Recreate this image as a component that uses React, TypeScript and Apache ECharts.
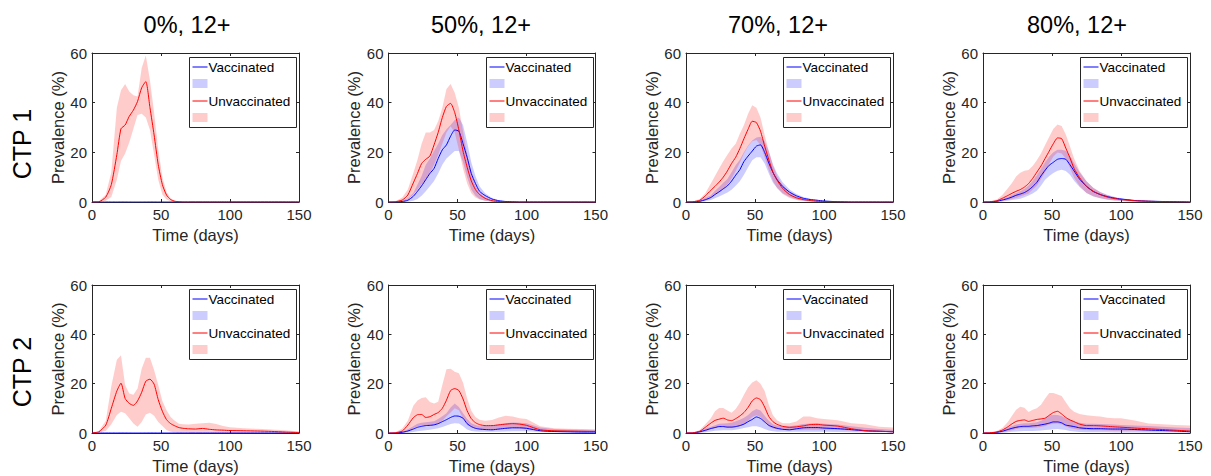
import React, { useEffect, useRef } from 'react';
import * as echarts from 'echarts';

// ---------- data ----------
const days = [0, 5, 10, 14, 18, 21, 24, 27, 30, 33, 36, 39, 42, 45, 48, 51, 54, 57, 60, 63, 66, 70, 75, 80, 85, 90, 95, 100, 110, 120, 130, 140, 150];

const columnTitles = ['0%, 12+', '50%, 12+', '70%, 12+', '80%, 12+'];
const rowLabels = ['CTP 1', 'CTP 2'];
const legendLabels = ['Vaccinated', 'Unvaccinated'];
const xTickStep = 50;
const yTickStep = 20;
const xMax = 150;
const yMax = 60;

const zeros = [0, 0, 0, 0, 0, 0, 0, 0, 0, 0, 0, 0, 0, 0, 0, 0, 0, 0, 0, 0, 0, 0, 0, 0, 0, 0, 0, 0, 0, 0, 0, 0, 0];

// CTP 1, 0%
const p1uM = [0, 0.1, 2, 7, 19, 29.5, 31, 34.5, 37, 40.5, 46, 48.5, 38, 27, 15, 7, 2.8, 1, 0.3, 0.1, 0, 0, 0, 0, 0, 0, 0, 0, 0, 0, 0, 0, 0];
const p1uU = [0, 0.3, 3, 12, 38, 45, 47.5, 44.5, 43, 42.5, 54, 59, 49, 36, 21, 10, 4, 1.5, 0.5, 0.2, 0, 0, 0, 0, 0, 0, 0, 0, 0, 0, 0, 0, 0];
const p1uL = [0, 0, 0.5, 2, 9, 16.5, 19.5, 24, 29.5, 35, 35.5, 34, 29, 19, 9, 3, 1, 0.3, 0, 0, 0, 0, 0, 0, 0, 0, 0, 0, 0, 0, 0, 0, 0];

// CTP 1, 50%
const p2uM = [0, 0.1, 0.8, 2.8, 7.7, 11.5, 15.5, 17.2, 18.5, 23, 28, 34, 38.5, 39.7, 36, 29, 20.5, 14, 8.5, 5, 3, 1.5, 0.5, 0.2, 0.1, 0, 0, 0, 0, 0, 0, 0, 0];
const p2uU = [0, 0.3, 1.8, 5, 11.7, 17, 23.5, 28, 28, 29, 32.5, 38, 45.5, 47.5, 44, 38, 28.5, 19, 11.5, 6.5, 3.6, 1.8, 0.8, 0.3, 0.1, 0, 0, 0, 0, 0, 0, 0, 0];
const p2uL = [0, 0, 0.2, 1, 3, 5, 7, 9, 11.5, 15, 19, 23.5, 28, 30.5, 28, 21, 13.5, 7.5, 3.5, 1.8, 1, 0.5, 0.2, 0, 0, 0, 0, 0, 0, 0, 0, 0, 0];
const p2vM = [0, 0, 0.2, 0.7, 2.3, 4.3, 6.5, 9, 11.5, 13.5, 17.5, 21, 23, 26.5, 29, 28.5, 23.5, 18, 11.5, 7.5, 4.3, 2.6, 1.2, 0.5, 0.2, 0.1, 0, 0, 0, 0, 0, 0, 0];
const p2vU = [0, 0, 0.5, 1.5, 3.6, 7, 10.5, 15, 17.5, 20.5, 23.5, 27, 29.3, 31, 33, 34, 31, 24, 16, 10.5, 6.3, 3.5, 1.6, 0.7, 0.3, 0.1, 0, 0, 0, 0, 0, 0, 0];
const p2vL = [0, 0, 0, 0.1, 0.5, 1.2, 2.5, 4.3, 6.3, 8.5, 11.5, 15, 17.5, 19, 20.5, 20.5, 16, 10, 5, 2.5, 1.2, 0.5, 0.2, 0, 0, 0, 0, 0, 0, 0, 0, 0, 0];

// CTP 1, 70%
const p3uM = [0, 0.1, 0.7, 2.5, 4.7, 6.3, 8, 10, 12.5, 15.5, 18, 21.5, 25.5, 29.3, 32.5, 32, 28.5, 22.5, 17, 12, 8.8, 5.5, 3, 1.7, 1, 0.6, 0.3, 0.2, 0.1, 0, 0, 0, 0];
const p3uU = [0, 0.2, 1.2, 3.5, 7.5, 10.5, 13.5, 16.4, 19, 21.5, 23.5, 27.5, 31, 35.5, 39, 38, 34, 27, 20.5, 14.7, 10.5, 6.8, 4, 2.3, 1.2, 0.6, 0.3, 0.1, 0, 0, 0, 0, 0];
const p3uL = [0, 0, 0.2, 0.8, 1.8, 3, 4, 5.3, 6.8, 9.5, 12.5, 15.8, 19.5, 22.5, 24.5, 25, 23, 18, 12.8, 8.6, 5.5, 3.2, 1.6, 0.8, 0.4, 0.2, 0.1, 0, 0, 0, 0, 0, 0];
const p3vM = [0, 0, 0.3, 0.9, 1.8, 3, 4.1, 5.3, 6.5, 8.4, 10.8, 13, 16.3, 18.5, 20.5, 22.5, 23, 20, 15.7, 11.9, 9, 6.3, 4, 2.5, 1.5, 1, 0.7, 0.4, 0.1, 0, 0, 0, 0];
const p3vU = [0, 0.1, 0.6, 1.7, 2.7, 4.5, 6, 7.8, 9.3, 12, 14.8, 17, 20, 22.8, 24.8, 26, 26.3, 24.5, 20.5, 15.2, 11.5, 8, 5, 3.2, 2, 1.3, 0.9, 0.5, 0.2, 0, 0, 0, 0];
const p3vL = [0, 0, 0, 0.3, 0.8, 1.5, 2.2, 3, 3.8, 4.9, 6.5, 8.4, 11, 14, 16.8, 18, 18, 15.5, 11.5, 7.8, 5.7, 3.5, 2, 1, 0.5, 0.3, 0.1, 0, 0, 0, 0, 0, 0];

// CTP 1, 80%
const p4uM = [0, 0.1, 0.5, 1.5, 2.6, 3.5, 4.3, 5, 6, 7.4, 9.5, 12, 14.5, 17.5, 20.5, 23.5, 25.8, 25.5, 21.7, 17.8, 13.5, 9.8, 6.3, 4.3, 3, 2, 1.4, 1, 0.5, 0.3, 0.15, 0.1, 0];
const p4uU = [0, 0.2, 1, 2.8, 5.5, 7.7, 10.3, 11.8, 12.6, 12.9, 14.5, 16.8, 19.5, 23, 26.3, 29.5, 31.2, 30.6, 27.2, 22.5, 17.5, 12.5, 8.4, 5.7, 3.9, 2.7, 1.9, 1.3, 0.7, 0.4, 0.2, 0.1, 0];
const p4uL = [0, 0, 0.1, 0.4, 0.8, 1.2, 1.6, 2.2, 2.8, 3.4, 5, 6.5, 9.2, 12, 15.5, 18.3, 19.9, 19.5, 17.5, 13.8, 9.8, 6.4, 3.6, 2.3, 1.5, 0.9, 0.6, 0.4, 0.2, 0.1, 0, 0, 0];
const p4vM = [0, 0, 0.3, 0.8, 1.4, 2, 2.7, 3.2, 3.8, 4.8, 6.2, 7.9, 10.5, 12.8, 14.8, 16, 17.2, 17.5, 17.2, 15, 12.5, 9.2, 6.3, 4.2, 3, 2.2, 1.6, 1.2, 0.6, 0.35, 0.2, 0.1, 0];
const p4vU = [0, 0, 0.6, 1.3, 2, 2.8, 3.6, 4.3, 5.2, 6.6, 8.5, 10.8, 13.3, 16, 18.3, 20, 21, 21, 20.6, 18.5, 15.7, 12, 8.4, 5.6, 4, 2.9, 2.1, 1.5, 0.8, 0.45, 0.25, 0.1, 0];
const p4vL = [0, 0, 0, 0.2, 0.5, 0.8, 1, 1.3, 1.9, 2.6, 3.4, 4.5, 6.5, 9, 10.5, 11.7, 12.6, 13, 12.5, 11, 8.6, 6, 3.6, 2.2, 1.5, 1, 0.7, 0.5, 0.25, 0.1, 0, 0, 0];

// CTP 2, 0%
const p5uM = [0, 0.5, 3.2, 10, 17, 20.2, 14, 12, 11.2, 13, 16.5, 21, 21.8, 19.8, 13.5, 8.8, 5.4, 3.8, 2.9, 2.2, 1.9, 1.7, 1.6, 1.85, 1.5, 1.25, 1.15, 1, 0.9, 0.8, 0.65, 0.4, 0.2];
const p5uU = [0, 0.8, 5, 19, 29.7, 31.5, 19.5, 16, 15.5, 18, 26, 30.5, 30.5, 25.5, 19.5, 13, 9.2, 6.5, 5, 3.8, 3.5, 3.4, 3.7, 4, 4.2, 3.6, 2.8, 2.3, 1.9, 1.7, 1.4, 1.1, 0.6];
const p5uL = [0, 0.1, 0.8, 3.5, 7.3, 8.6, 8, 6, 3.9, 2.5, 4.5, 7.5, 8.2, 7, 4.5, 2.8, 1.2, 0.5, 0.3, 0.2, 0.2, 0.1, 0.1, 0.1, 0.1, 0.1, 0.1, 0.1, 0.1, 0.1, 0.1, 0, 0];

// CTP 2, 50%
const p6uM = [0, 0.1, 0.8, 3.2, 6.2, 7.4, 7.5, 6.3, 6.6, 7.5, 8.3, 10, 13.3, 17.2, 18, 17.2, 13.8, 9, 5.8, 4.2, 3.4, 3, 3, 3.3, 3.6, 3.8, 3.6, 3.1, 1.3, 0.9, 0.8, 0.7, 0.6];
const p6uU = [0, 0.3, 1.8, 5, 11, 13.2, 14.2, 14.5, 12.6, 12, 12.7, 19.5, 25.8, 26, 24.8, 24.2, 20.5, 14, 9, 6.5, 5.4, 5, 5.3, 6.3, 7, 6.7, 6, 5.7, 2.7, 1.9, 1.7, 1.6, 1.5];
const p6uL = [0, 0, 0.1, 0.5, 1.8, 2.7, 3, 3.1, 3.1, 3.4, 3.8, 5, 6.8, 8.3, 10, 9.2, 6, 3.2, 2.3, 1.7, 1.3, 1.3, 1.4, 1.6, 1.8, 2, 1.8, 1.4, 0.8, 0.5, 0.4, 0.3, 0.3];
const p6vM = [0, 0, 0.3, 0.8, 1.6, 2.3, 2.7, 3, 3.1, 3.3, 3.8, 4.6, 5.4, 6.3, 6.9, 6.8, 6, 3.8, 2.6, 1.9, 1.6, 1.4, 1.3, 1.6, 1.9, 2.1, 2.1, 1.9, 0.9, 0.6, 0.5, 0.4, 0.4];
const p6vU = [0, 0, 0.6, 1.5, 2.7, 3.7, 4.2, 4.4, 4.6, 4.8, 5.7, 6.8, 8, 10.3, 12, 10.5, 8, 5.7, 4, 3.2, 2.7, 2.8, 3, 3.5, 4, 4.3, 4.2, 4, 2.2, 1.6, 1.4, 1.3, 1.2];
const p6vL = [0, 0, 0, 0.1, 0.4, 0.7, 0.9, 1.1, 1.3, 1.6, 1.9, 2.4, 3, 3.6, 4, 3.9, 2.7, 1.4, 0.8, 0.6, 0.5, 0.5, 0.5, 0.5, 0.6, 0.7, 0.7, 0.7, 0.4, 0.3, 0.2, 0.1, 0.1];

// CTP 2, 70%
const p7uM = [0, 0.1, 0.7, 2.3, 4, 5.1, 5.6, 6, 5.3, 5, 5.8, 6.9, 8.3, 10.4, 13, 14.2, 13.5, 10.5, 6.7, 4.6, 3.5, 2.7, 2.3, 2.5, 2.9, 3.4, 3.5, 3.2, 2.8, 1.7, 0.95, 0.7, 0.5];
const p7uU = [0, 0.2, 1.2, 3.5, 6, 8.8, 10.1, 10.1, 9.1, 8.2, 9.7, 12.3, 15.5, 18.5, 20.5, 21.4, 20, 17, 11.5, 7.2, 5.2, 4, 4, 4.7, 6.7, 6.7, 6, 5.7, 5.2, 4, 3.5, 2.5, 2.2];
const p7uL = [0, 0, 0.1, 0.6, 1.6, 2.3, 2.7, 2.4, 2, 2, 2.3, 2.7, 3.4, 5, 6.5, 7.2, 6.5, 4.5, 2.7, 1.8, 1.5, 1.3, 1.3, 1.3, 1.3, 1.3, 1.3, 1.3, 1.3, 0.9, 0.7, 0.5, 0.4];
const p7vM = [0, 0, 0.5, 1.1, 1.8, 2.2, 2.6, 2.6, 2.4, 2.4, 2.6, 3, 3.6, 4.6, 5.5, 6.5, 5.9, 4.5, 3.1, 2.4, 1.9, 1.5, 1.3, 1.7, 2.1, 2.2, 2.2, 2, 1.75, 1.35, 0.9, 0.7, 0.5];
const p7vU = [0, 0, 0.9, 1.8, 2.5, 3.1, 3.7, 3.9, 4, 4.2, 4.8, 5.4, 6.2, 7.3, 8.8, 9.7, 9.1, 7, 5, 3.5, 2.9, 2.7, 2.7, 3.1, 3.6, 3.9, 4, 3.8, 3.4, 2.7, 2.1, 1.6, 1.3];
const p7vL = [0, 0, 0.1, 0.3, 0.6, 0.9, 1, 1.1, 1.1, 1.1, 1.3, 1.6, 2, 2.3, 2.7, 2.7, 2.3, 1.6, 1, 0.7, 0.5, 0.5, 0.5, 0.5, 0.5, 0.5, 0.5, 0.5, 0.4, 0.3, 0.3, 0.3, 0.3];

// CTP 2, 80%
const p8uM = [0, 0.1, 0.4, 1.2, 2.5, 3.7, 4.7, 5.1, 5.3, 4.7, 5.1, 5.5, 5.7, 6, 7.2, 8.3, 8.8, 7.7, 6.3, 5.3, 4.6, 3.6, 3, 3, 2.9, 2.7, 2.5, 2.35, 2, 1.7, 1.4, 1.1, 0.8];
const p8uU = [0, 0.2, 0.8, 2, 4.5, 7, 9.4, 10.6, 10.2, 8.5, 9.4, 10, 11.5, 14, 16.2, 16.2, 15.6, 15, 12.5, 10, 8.6, 7.7, 7.2, 6.9, 6.7, 6.2, 6, 6, 5.1, 3.9, 3.5, 3.2, 3];
const p8uL = [0, 0, 0.1, 0.3, 0.7, 1.1, 1.6, 1.9, 2, 2, 2, 2.2, 2.4, 2.8, 3.4, 3.8, 3.9, 3.5, 2.6, 2, 1.6, 1.3, 1.2, 1.1, 1.1, 1, 0.95, 0.9, 0.9, 0.85, 0.8, 0.75, 0.7];
const p8vM = [0, 0, 0.3, 0.7, 1.4, 1.9, 2.3, 2.6, 2.7, 2.7, 2.9, 3, 3.3, 3.6, 4, 4.5, 4.5, 4.1, 3.2, 2.9, 2.6, 2.1, 1.85, 1.75, 1.75, 1.65, 1.6, 1.6, 1.4, 1.2, 1, 0.8, 0.5];
const p8vU = [0, 0, 0.5, 1.2, 2.1, 2.8, 3.4, 3.8, 4, 4, 4.2, 4.4, 5, 5.8, 7, 7.3, 7.3, 6.9, 6, 5.4, 4.6, 4.2, 3.8, 3.7, 3.6, 3.5, 3.4, 3.2, 3, 2.8, 2.5, 2.2, 2];
const p8vL = [0, 0, 0, 0.1, 0.3, 0.5, 0.6, 0.7, 0.8, 0.8, 0.8, 0.9, 1, 1.2, 1.3, 1.5, 1.6, 1.4, 1.2, 0.8, 0.6, 0.4, 0.3, 0.3, 0.3, 0.3, 0.2, 0.2, 0.2, 0.2, 0.2, 0.2, 0.2];

const panels = [
  { vM: zeros, vL: zeros, vU: zeros, uM: p1uM, uL: p1uL, uU: p1uU },
  { vM: p2vM, vL: p2vL, vU: p2vU, uM: p2uM, uL: p2uL, uU: p2uU },
  { vM: p3vM, vL: p3vL, vU: p3vU, uM: p3uM, uL: p3uL, uU: p3uU },
  { vM: p4vM, vL: p4vL, vU: p4vU, uM: p4uM, uL: p4uL, uU: p4uU },
  { vM: zeros, vL: zeros, vU: zeros, uM: p5uM, uL: p5uL, uU: p5uU },
  { vM: p6vM, vL: p6vL, vU: p6vU, uM: p6uM, uL: p6uL, uU: p6uU },
  { vM: p7vM, vL: p7vL, vU: p7vU, uM: p7uM, uL: p7uL, uU: p7uU },
  { vM: p8vM, vL: p8vL, vU: p8vU, uM: p8uM, uL: p8uL, uU: p8uU },
];

// ---------- layout / style ----------
const FONT = '"Liberation Sans", Arial, Helvetica, sans-serif';
const AXIS = '#262626';
const BLUE = '#0000ff';
const RED = '#ff0000';
const BLUE_BAND = 'rgba(0,0,255,0.2)';
const RED_BAND = 'rgba(255,0,0,0.2)';
const colLeft = [92, 388.5, 686, 983];
const plotW = 207;
const rowTop = [53, 285];
const rowH = [149, 148];
const titleX = [187, 481, 778, 1077];

function pairs(a: number[]) {
  return days.map((d, i) => [d, a[i]]);
}

function bandSeries(lower: number[], upper: number[], fill: string, axisIndex: number) {
  return {
    type: 'custom',
    coordinateSystem: 'cartesian2d',
    xAxisIndex: axisIndex,
    yAxisIndex: axisIndex,
    silent: true,
    z: 2,
    data: days.map((d, i) => [d, lower[i], upper[i]]),
    encode: { x: 0, y: [1, 2] },
    renderItem: (params: any, api: any) => {
      if (params.dataIndex !== 0) return { type: 'group', children: [] };
      const pts: number[][] = [];
      for (let k = 0; k < days.length; k++) pts.push(api.coord([days[k], upper[k]]));
      for (let k = days.length - 1; k >= 0; k--) pts.push(api.coord([days[k], lower[k]]));
      return {
        type: 'polygon',
        shape: { points: pts },
        style: { fill, stroke: 'none' },
      };
    },
  };
}

function buildOption() {
  const grids: any[] = [];
  const xAxes: any[] = [];
  const yAxes: any[] = [];
  const series: any[] = [];
  const graphics: any[] = [];

  panels.forEach((p, i) => {
    const r = Math.floor(i / 4);
    const c = i % 4;
    const left = colLeft[c];
    const top = rowTop[r];
    const h = rowH[r];
    grids.push({ left, top, width: plotW, height: h, containLabel: false });

    const axisLine = { show: true, onZero: false, lineStyle: { color: AXIS, width: 1 } };
    const axisTick = { show: true, inside: true, length: 3, lineStyle: { color: AXIS, width: 1 } };
    const label = { color: AXIS, fontSize: 15, fontFamily: FONT, margin: 5 };
    const nameStyle = { color: AXIS, fontSize: 16.5, fontFamily: FONT };

    xAxes.push({
      type: 'value', gridIndex: i, min: 0, max: xMax, interval: xTickStep, position: 'bottom',
      axisLine, axisTick, axisLabel: label, splitLine: { show: false },
      name: 'Time (days)', nameLocation: 'middle', nameGap: 24, nameTextStyle: nameStyle,
    });
    xAxes.push({
      type: 'value', gridIndex: i, min: 0, max: xMax, interval: xTickStep, position: 'top',
      axisLine, axisTick, axisLabel: { show: false }, splitLine: { show: false },
    });
    yAxes.push({
      type: 'value', gridIndex: i, min: 0, max: yMax, interval: yTickStep, position: 'left',
      axisLine, axisTick, axisLabel: label, splitLine: { show: false },
      name: 'Prevalence (%)', nameLocation: 'middle', nameGap: 25, nameTextStyle: nameStyle,
    });
    yAxes.push({
      type: 'value', gridIndex: i, min: 0, max: yMax, interval: yTickStep, position: 'right',
      axisLine, axisTick, axisLabel: { show: false }, splitLine: { show: false },
    });

    const ai = 2 * i;
    const base = {
      type: 'line', xAxisIndex: ai, yAxisIndex: ai, symbol: 'none', showSymbol: false,
      smooth: 0.2, silent: true,
    };
    series.push(bandSeries(p.vL, p.vU, BLUE_BAND, ai));
    series.push(bandSeries(p.uL, p.uU, RED_BAND, ai));
    series.push({ ...base, name: legendLabels[0], data: pairs(p.vM), lineStyle: { color: BLUE, width: 1 }, itemStyle: { color: BLUE }, z: 3 });
    series.push({ ...base, name: legendLabels[1], data: pairs(p.uM), lineStyle: { color: RED, width: 1 }, itemStyle: { color: RED }, z: 3 });

    // legend box (drawn)
    const bw = 107;
    const bh = 70;
    const bx = Math.round(left + plotW - 3 - bw) + 0.5;
    const by = Math.round(top + 3.5) + 0.5;
    const lx1 = bx + 3;
    const lx2 = bx + 18;
    const tx = bx + 19;
    const row = [9.5, 26, 43.5, 60];
    graphics.push({ type: 'rect', z: 100, shape: { x: bx, y: by, width: bw, height: bh }, style: { fill: '#ffffff', stroke: AXIS, lineWidth: 1 } });
    graphics.push({ type: 'line', z: 101, shape: { x1: lx1, y1: by + row[0], x2: lx2, y2: by + row[0] }, style: { stroke: BLUE, lineWidth: 1 } });
    graphics.push({ type: 'text', z: 101, x: tx, y: by + row[0], style: { text: legendLabels[0], font: `13.5px ${FONT}`, fill: '#000', textAlign: 'left', textVerticalAlign: 'middle' } });
    graphics.push({ type: 'rect', z: 101, shape: { x: lx1, y: by + row[1] - 4.5, width: 15, height: 9 }, style: { fill: BLUE_BAND } });
    graphics.push({ type: 'line', z: 101, shape: { x1: lx1, y1: by + row[2], x2: lx2, y2: by + row[2] }, style: { stroke: RED, lineWidth: 1 } });
    graphics.push({ type: 'text', z: 101, x: tx, y: by + row[2], style: { text: legendLabels[1], font: `13.5px ${FONT}`, fill: '#000', textAlign: 'left', textVerticalAlign: 'middle' } });
    graphics.push({ type: 'rect', z: 101, shape: { x: lx1, y: by + row[3] - 4.5, width: 15, height: 9 }, style: { fill: RED_BAND } });
  });

  columnTitles.forEach((t, c) => {
    graphics.push({ type: 'text', x: titleX[c], y: 25, style: { text: t, font: `23.5px ${FONT}`, fill: '#000', textAlign: 'center', textVerticalAlign: 'middle' } });
  });
  const rowLabelY = [144, 372];
  rowLabels.forEach((t, r) => {
    graphics.push({ type: 'text', x: 22, y: rowLabelY[r], rotation: Math.PI / 2, style: { text: t, font: `25px ${FONT}`, fill: '#000', textAlign: 'center', textVerticalAlign: 'middle' } });
  });

  return {
    animation: false,
    backgroundColor: '#ffffff',
    grid: grids,
    xAxis: xAxes,
    yAxis: yAxes,
    series,
    graphic: graphics,
  };
}

export default function App() {
  const ref = useRef<HTMLDivElement>(null);
  useEffect(() => {
    if (!ref.current) return;
    const chart = echarts.init(ref.current, undefined, { renderer: 'svg' });
    chart.setOption(buildOption() as any);
    return () => chart.dispose();
  }, []);
  return (
    <div
      ref={ref}
      style={{ position: 'absolute', left: 0, top: 0, width: 1211, height: 476, background: '#fff' }}
    />
  );
}
